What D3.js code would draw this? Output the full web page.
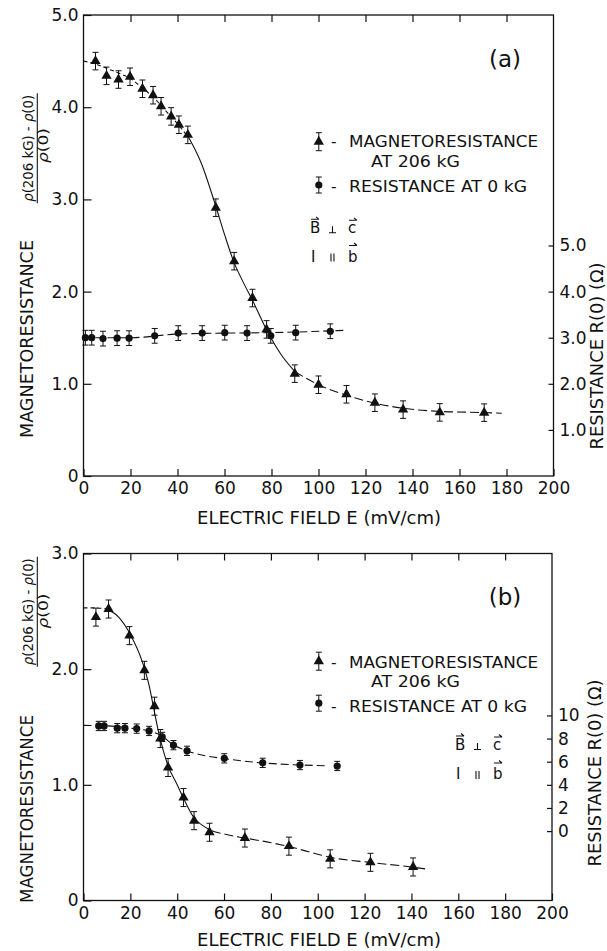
<!DOCTYPE html>
<html>
<head>
<meta charset="utf-8">
<script src="https://cdn.jsdelivr.net/npm/d3@7"></script>
<style>
body { margin: 0; background: #fff; }
svg text { font-family: "DejaVu Sans", sans-serif; fill: #111; }
</style>
</head>
<body>
<div id="chart"></div>
<script>
const width = 607;
const height = 951;

const xTicks = [0, 20, 40, 60, 80, 100, 120, 140, 160, 180, 200];
const topTicks = [20, 40, 60, 80, 100, 120, 140, 160, 180];

// panel (a): magnetoresistance (left axis) and R(0) in ohm (right axis)
const aTriE = [5.1, 9.8, 14.9, 19.8, 25.1, 29.6, 33.0, 37.3, 40.6, 44.4, 56.3, 64.1, 71.9, 77.9, 89.9, 100, 111.9, 124, 136, 151.6, 170.5];
const aTriV = [4.50, 4.34, 4.30, 4.33, 4.20, 4.13, 4.01, 3.90, 3.81, 3.70, 2.91, 2.33, 1.93, 1.59, 1.11, 0.99, 0.886, 0.795, 0.72, 0.69, 0.687];
const aDotE = [0.8, 3.5, 8.3, 14.3, 19.4, 30.3, 40.3, 50.5, 60.1, 69.6, 79.7, 90.3, 105];
const aDotR = [3.0, 3.0, 2.98, 2.99, 2.99, 3.04, 3.1, 3.1, 3.11, 3.1, 3.04, 3.11, 3.14];
const aLeftTicks = [0, 1, 2, 3, 4, 5];
const aRightTicks = [1, 2, 3, 4, 5];
const aFitTriLead = [[0, 4.5], [5, 4.47], [10, 4.42], [15, 4.37], [20, 4.31], [25, 4.21], [30, 4.1], [35, 3.96], [40, 3.82], [45, 3.66]];
const aFitTriMid = [[45, 3.66], [50, 3.4], [56, 2.95], [60, 2.62], [64, 2.32], [68, 2.1], [72, 1.9], [78, 1.58], [84, 1.32], [90, 1.13]];
const aFitTriTail = [[90, 1.13], [100, 0.99], [112, 0.875], [124, 0.79], [136, 0.735], [152, 0.7], [170, 0.688], [178, 0.68]];
const aFitDot = [[0, 3.0], [20, 3.0], [40, 3.08], [60, 3.1], [80, 3.11], [111.5, 3.16]];

// panel (b)
const bTriE = [5.3, 10.7, 19.6, 26.0, 30.3, 32.8, 36.1, 42.7, 47.2, 53.8, 68.9, 87.7, 105.3, 122.5, 140.7];
const bTriV = [2.45, 2.52, 2.29, 1.99, 1.68, 1.40, 1.15, 0.89, 0.69, 0.59, 0.54, 0.47, 0.36, 0.33, 0.29];
const bDotE = [6.5, 8.8, 14.4, 17.7, 22.7, 28.0, 33.6, 38.4, 44.2, 60.1, 76.5, 92.4, 108.3];
const bDotR = [9.09, 9.09, 8.9, 8.9, 8.86, 8.66, 8.14, 7.43, 6.94, 6.29, 5.9, 5.71, 5.63];
const bLeftTicks = [0, 1, 2, 3];
const bRightTicks = [0, 2, 4, 6, 8, 10];
const bFitTriLead = [[0, 2.53], [5, 2.53], [10, 2.52]];
const bFitTriMid = [[10, 2.52], [15, 2.45], [20, 2.3], [25, 2.07], [28, 1.86], [30, 1.66], [32, 1.46], [34, 1.3], [36, 1.17], [40, 1.0], [43, 0.87], [47, 0.72], [50, 0.66]];
const bFitTriTail = [[50, 0.66], [54, 0.61], [60, 0.575], [69, 0.54], [80, 0.5], [88, 0.465], [100, 0.4], [105, 0.375], [122, 0.33], [140, 0.29], [147, 0.27]];
const bFitDot = [[0, 9.14], [10, 9.1], [20, 8.9], [28, 8.65], [33.6, 8.2], [38, 7.5], [44, 6.95], [50, 6.6], [60, 6.27], [76, 5.9], [92, 5.72], [104, 5.65]];

const svg = d3.select("#chart")
    .append("svg")
    .attr("width", width)
    .attr("height", height);

svg.append("rect").attr("width", width).attr("height", height).attr("fill", "#fff");

const triangle = d3.symbol().type(d3.symbolTriangle).size(46);

function styleAxis(g) {
    g.select(".domain").remove();
    g.attr("font-family", "DejaVu Sans, sans-serif").attr("font-size", 17);
    g.selectAll("line").attr("stroke", "#111").attr("stroke-width", 1.2);
    g.selectAll("text").attr("fill", "#111");
}

function rotText(x, y, str, size, len) {
    const t = svg.append("text")
        .attr("transform", `translate(${x},${y}) rotate(-90)`)
        .attr("text-anchor", "middle")
        .attr("font-size", size)
        .text(str);
    if (len) t.attr("textLength", len).attr("lengthAdjust", "spacingAndGlyphs");
    return t;
}

function glyph(d) {
    svg.append("path")
        .attr("d", d)
        .attr("fill", "none").attr("stroke", "#111").attr("stroke-width", 1.1);
}

// little vector arrow over a letter
function vecArrow(x, y) {
    glyph(`M${x - 4},${y}H${x + 4}M${x + 1},${y - 2.5}L${x + 4},${y}`);
}

function errBar(g, x, y1, y2) {
    g.append("line").attr("x1", x).attr("x2", x).attr("y1", y1).attr("y2", y2);
    g.append("line").attr("x1", x - 3).attr("x2", x + 3).attr("y1", y1).attr("y2", y1);
    g.append("line").attr("x1", x - 3).attr("x2", x + 3).attr("y1", y2).attr("y2", y2);
}

function drawPanel(p) {
    const x = d3.scaleLinear().domain([0, 200]).range(p.xRange);
    const y = d3.scaleLinear().domain(p.yDomain).range(p.yRange);
    const r = d3.scaleLinear().domain(p.rDomain).range(p.yRange);

    // frame
    svg.append("rect")
        .attr("x", p.xRange[0]).attr("y", p.yRange[1])
        .attr("width", p.xRange[1] - p.xRange[0])
        .attr("height", p.yRange[0] - p.yRange[1])
        .attr("fill", "none").attr("stroke", "#111").attr("stroke-width", 1.3);

    svg.append("g")
        .attr("transform", `translate(0,${p.yRange[0]})`)
        .call(d3.axisBottom(x).tickValues(xTicks).tickSizeInner(-7).tickSizeOuter(0).tickPadding(6))
        .call(styleAxis);

    svg.append("g")
        .attr("transform", `translate(0,${p.yRange[1]})`)
        .call(d3.axisTop(x).tickValues(topTicks).tickSizeInner(-7).tickSizeOuter(0).tickFormat(""))
        .call(styleAxis);

    svg.append("g")
        .attr("transform", `translate(${p.xRange[0]},0)`)
        .call(d3.axisLeft(y).tickValues(p.leftTicks).tickSizeInner(-8).tickSizeOuter(0).tickPadding(5)
            .tickFormat(d => d === 0 ? "0" : d.toFixed(1)))
        .call(styleAxis);

    svg.append("g")
        .attr("transform", `translate(${p.xRange[1]},0)`)
        .call(d3.axisRight(r).tickValues(p.rightTicks).tickSizeInner(-5).tickSizeOuter(0).tickPadding(6)
            .tickFormat(p.rightFormat))
        .call(styleAxis);

    // fitted curves
    const lineY = d3.line().x(d => x(d[0])).y(d => y(d[1])).curve(d3.curveMonotoneX);
    const lineR = d3.line().x(d => x(d[0])).y(d => r(d[1])).curve(d3.curveMonotoneX);
    const curves = svg.append("g").attr("fill", "none").attr("stroke", "#111").attr("stroke-width", 1.1);
    curves.append("path").attr("d", lineY(p.fitTriLead)).attr("stroke-dasharray", "4,3");
    curves.append("path").attr("d", lineY(p.fitTriMid));
    curves.append("path").attr("d", lineY(p.fitTriTail)).attr("stroke-dasharray", "9,4");
    curves.append("path").attr("d", lineR(p.fitDot)).attr("stroke-dasharray", "8,4");

    // error bars
    const bars = svg.append("g").attr("stroke", "#111").attr("stroke-width", 1);
    p.triE.forEach((e, i) => errBar(bars, x(e), y(p.triV[i] - p.triErr), y(p.triV[i] + p.triErr)));
    p.dotE.forEach((e, i) => errBar(bars, x(e), r(p.dotR[i] - p.dotErr), r(p.dotR[i] + p.dotErr)));

    // markers
    svg.append("g").selectAll("path")
        .data(p.triE)
        .join("path")
        .attr("d", triangle)
        .attr("transform", (e, i) => `translate(${x(e)},${y(p.triV[i])})`)
        .attr("fill", "#111");

    svg.append("g").selectAll("circle")
        .data(p.dotE)
        .join("circle")
        .attr("cx", e => x(e))
        .attr("cy", (e, i) => r(p.dotR[i]))
        .attr("r", 3.6)
        .attr("fill", "#111");

    // x title
    svg.append("text")
        .attr("x", 319).attr("y", p.xTitleY)
        .attr("text-anchor", "middle").attr("font-size", 17)
        .attr("textLength", 244).attr("lengthAdjust", "spacingAndGlyphs")
        .text("ELECTRIC FIELD E (mV/cm)");

    // left title with fraction
    rotText(33, p.wordY, "MAGNETORESISTANCE", 17, p.wordLen);
    const num = rotText(33, p.numY, null, 14, 107);
    num.append("tspan").attr("font-style", "italic").text("ρ");
    num.append("tspan").text("(206 kG) - ");
    num.append("tspan").attr("font-style", "italic").text("ρ");
    num.append("tspan").text("(0)");
    svg.append("line")
        .attr("x1", 37.3).attr("x2", 37.3)
        .attr("y1", p.numY - 55).attr("y2", p.numY + 55)
        .attr("stroke", "#111").attr("stroke-width", 1.1);
    const den = rotText(48, p.denY, null, 14, 35);
    den.append("tspan").attr("font-style", "italic").text("ρ");
    den.append("tspan").text("(0)");

    // right title
    rotText(p.rTitleX, p.rTitleY, "RESISTANCE  R(0)  (Ω)", 17, 187);

    // panel letter
    svg.append("text")
        .attr("x", 505).attr("y", p.yRange[1] + 51.5)
        .attr("text-anchor", "middle").attr("font-size", 23)
        .text(p.letter);

    // legend
    const lg = p.legend;
    const lb = svg.append("g").attr("stroke", "#111").attr("stroke-width", 1);
    errBar(lb, 318.8, lg.triY - 9, lg.triY + 9);
    errBar(lb, 318.8, lg.dotY - 8, lg.dotY + 8);
    svg.append("path").attr("d", triangle).attr("transform", `translate(318.8,${lg.triY})`).attr("fill", "#111");
    svg.append("circle").attr("cx", 318.8).attr("cy", lg.dotY).attr("r", 3.6).attr("fill", "#111");

    const fs = 15.5;
    svg.append("text").attr("x", 331).attr("y", lg.magY).attr("font-size", fs).text("-");
    svg.append("text").attr("x", 349).attr("y", lg.magY).attr("font-size", fs)
        .attr("textLength", 189).attr("lengthAdjust", "spacingAndGlyphs").text("MAGNETORESISTANCE");
    svg.append("text").attr("x", 371).attr("y", lg.atY).attr("font-size", fs)
        .attr("textLength", 89).attr("lengthAdjust", "spacingAndGlyphs").text("AT 206 kG");
    svg.append("text").attr("x", 331).attr("y", lg.resY).attr("font-size", fs).text("-");
    svg.append("text").attr("x", 349).attr("y", lg.resY).attr("font-size", fs)
        .attr("textLength", 178).attr("lengthAdjust", "spacingAndGlyphs").text("RESISTANCE  AT  0 kG");

    // B perp c, I parallel b
    const vx = lg.vecX;
    svg.append("text").attr("x", vx).attr("y", lg.bY).attr("font-size", 15).text("B");
    vecArrow(vx + 5, lg.bY - 14);
    glyph(`M${vx + 19},${lg.bY - 0.5}H${vx + 26}M${vx + 22.5},${lg.bY - 0.5}V${lg.bY - 7}`);
    svg.append("text").attr("x", vx + 38).attr("y", lg.bY).attr("font-size", 15).text("c");
    vecArrow(vx + 43, lg.bY - 13);

    svg.append("text").attr("x", vx + 1).attr("y", lg.iY).attr("font-size", 15).text("I");
    glyph(`M${vx + 21},${lg.iY}V${lg.iY - 8}M${vx + 24},${lg.iY}V${lg.iY - 8}`);
    svg.append("text").attr("x", vx + 38).attr("y", lg.iY).attr("font-size", 15).text("b");
    vecArrow(vx + 43, lg.iY - 16);
}

drawPanel({
    letter: "(a)",
    xRange: [83.5, 553.5],
    yRange: [476, 15],
    yDomain: [0, 5],
    rDomain: [0, 10],
    leftTicks: aLeftTicks,
    rightTicks: aRightTicks,
    rightFormat: d => d.toFixed(1),
    triE: aTriE, triV: aTriV, triErr: 0.095,
    dotE: aDotE, dotR: aDotR, dotErr: 0.16,
    fitTriLead: aFitTriLead, fitTriMid: aFitTriMid, fitTriTail: aFitTriTail, fitDot: aFitDot,
    xTitleY: 523.5,
    wordY: 339, wordLen: 198, numY: 148.3, denY: 145.5,
    rTitleX: 603, rTitleY: 356,
    legend: { triY: 141.7, magY: 147.3, atY: 166.7, dotY: 185, resY: 191.7, vecX: 310, bY: 233.3, iY: 261.5 }
});

drawPanel({
    letter: "(b)",
    xRange: [83.5, 552],
    yRange: [900.5, 553.5],
    yDomain: [0, 3],
    rDomain: [-6, 24],
    leftTicks: bLeftTicks,
    rightTicks: bRightTicks,
    rightFormat: d => String(d),
    triE: bTriE, triV: bTriV, triErr: 0.078,
    dotE: bDotE, dotR: bDotR, dotErr: 0.4,
    fitTriLead: bFitTriLead, fitTriMid: bFitTriMid, fitTriTail: bFitTriTail, fitDot: bFitDot,
    xTitleY: 945.5,
    wordY: 809, wordLen: 188, numY: 611.7, denY: 611,
    rTitleX: 601, rTitleY: 773,
    legend: { triY: 661.2, magY: 668, atY: 686.5, dotY: 703.2, resY: 711.5, vecX: 455, bY: 750, iY: 779 }
});
</script>
</body>
</html>
